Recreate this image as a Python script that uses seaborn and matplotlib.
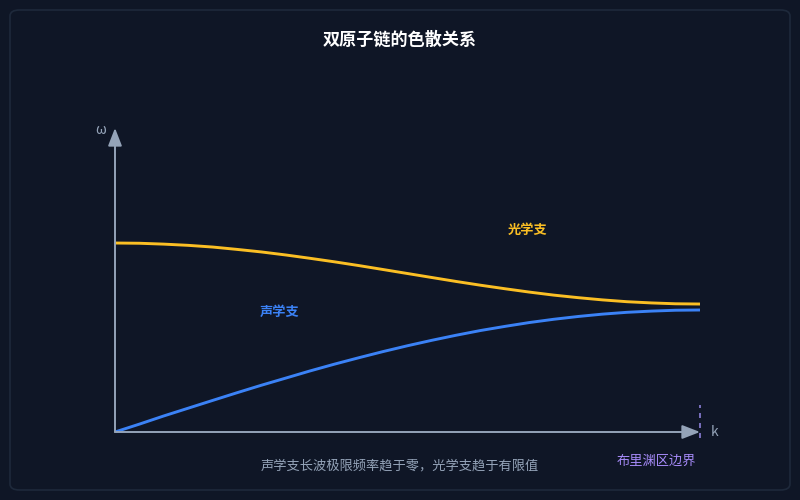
import matplotlib
matplotlib.use("Agg")
import matplotlib.pyplot as plt
import seaborn as sns
import pandas as pd
from matplotlib.patches import FancyBboxPatch

# Style
sns.set_theme(style="dark")
plt.rcParams["font.family"] = ["Noto Sans CJK SC", "DejaVu Sans"]

bg = "#0f1626"

# Data (k in units of pi/a, omega in units of the acoustic max at the zone boundary)
k_vals = [0.0, 0.042, 0.083, 0.125, 0.167, 0.208, 0.25, 0.292, 0.333, 0.375, 0.417, 0.458,
          0.5, 0.542, 0.583, 0.625, 0.667, 0.708, 0.75, 0.792, 0.833, 0.875, 0.917, 0.958, 1.0]
omega_acoustic = [0.0, 0.065, 0.131, 0.195, 0.259, 0.321, 0.383, 0.442, 0.500, 0.556, 0.609,
                  0.659, 0.707, 0.752, 0.793, 0.832, 0.866, 0.897, 0.924, 0.947, 0.966, 0.981,
                  0.991, 0.998, 1.0]
omega_optical = [1.549, 1.547, 1.540, 1.530, 1.516, 1.497, 1.476, 1.451, 1.424, 1.395, 1.364,
                 1.332, 1.299, 1.266, 1.234, 1.203, 1.174, 1.147, 1.122, 1.101, 1.083, 1.068,
                 1.058, 1.051, 1.049]

df = pd.DataFrame({"k": k_vals, "acoustic": omega_acoustic, "optical": omega_optical})

fig = plt.figure(figsize=(8, 5), dpi=100, facecolor=bg)

# rounded panel, behind the axes
panel = FancyBboxPatch((10 / 800, 10 / 500), 780 / 800, 480 / 500,
                       boxstyle="round,pad=0,rounding_size=0.012",
                       transform=fig.transFigure, facecolor=bg,
                       edgecolor="#1e293b", linewidth=1.2, zorder=-5)
fig.patches.append(panel)

ax = fig.add_axes([115 / 800, 68 / 500, 585 / 800, 304 / 500])
ax.set_zorder(2)
ax.set_facecolor("none")
ax.set_xlim(0, 1)
ax.set_ylim(0, 304 / 122)
ax.axis("off")

sns.lineplot(data=df, x="k", y="optical", ax=ax, color="#fbbf24", linewidth=2.1)
sns.lineplot(data=df, x="k", y="acoustic", ax=ax, color="#3b82f6", linewidth=2.1)

# axes with arrows
axis_col = "#94a3b8"
arrow = dict(arrowstyle="-|>,head_length=0.9,head_width=0.35", color=axis_col, lw=1.4,
             shrinkA=0, shrinkB=0)
ax.annotate("", xy=(0, 1), xytext=(0, 0), xycoords="axes fraction",
            arrowprops=arrow, annotation_clip=False)
ax.annotate("", xy=(1, 0), xytext=(0, 0), xycoords="axes fraction",
            arrowprops=arrow, annotation_clip=False)
ax.text(-0.025, 0.995, "ω", transform=ax.transAxes, color=axis_col, fontsize=10,
        ha="center", va="center")
ax.text(1.025, 0.0, "k", transform=ax.transAxes, color=axis_col, fontsize=10,
        ha="center", va="center")

# Brillouin zone boundary
ax.plot([1, 1], [-0.05, 0.22], color="#8b7fd8", lw=1.2, ls=(0, (3, 3)), clip_on=False)
ax.text(0.925, -0.095, "布里渊区边界", transform=ax.transAxes, color="#a78bfa",
        fontsize=9.5, ha="center", va="center")

# branch labels
ax.text(0.705, 0.665, "光学支", transform=ax.transAxes, color="#fbbf24",
        fontsize=9.5, fontweight="bold", ha="center", va="center")
ax.text(0.282, 0.395, "声学支", transform=ax.transAxes, color="#3b82f6",
        fontsize=9.5, fontweight="bold", ha="center", va="center")

fig.text(0.5, 1 - 40 / 500, "双原子链的色散关系", color="white", fontsize=12.3,
         fontweight="bold", ha="center", va="center")
fig.text(0.5, 1 - 466 / 500, "声学支长波极限频率趋于零，光学支趋于有限值",
         color=axis_col, fontsize=9.5, ha="center", va="center")

fig.savefig("out.png", dpi=100, facecolor=bg)
